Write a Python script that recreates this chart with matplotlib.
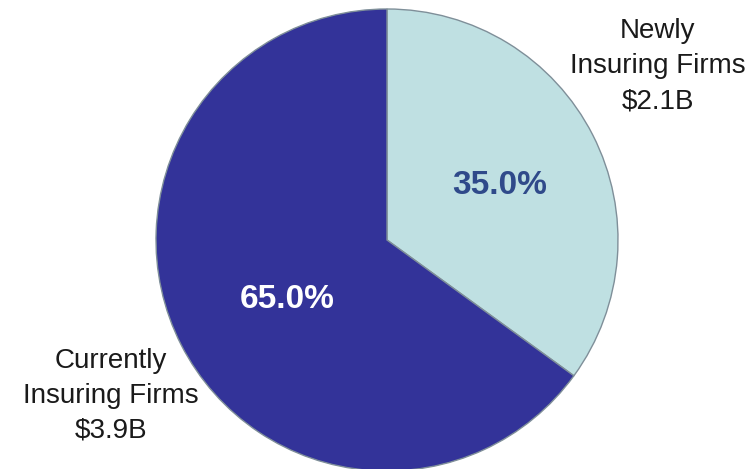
import matplotlib.pyplot as plt

# Share of premium by firm group
groups = ['Newly\nInsuring Firms\n$2.1B', 'Currently\nInsuring Firms\n$3.9B']
shares = [35.0, 65.0]
colors = ['#bfe0e2', '#333399']
pct_colors = ['#2f4a8a', 'white']

plt.rcParams['font.family'] = ['Liberation Sans', 'DejaVu Sans']

fig = plt.figure(figsize=(7.56, 4.69), dpi=100)
ax = fig.add_axes([0, 0, 1, 1])
ax.set_xlim(0, 756)
ax.set_ylim(0, 469)
ax.set_aspect('equal')
ax.axis('off')

wedges, texts, autotexts = ax.pie(
    shares, colors=colors, startangle=90, counterclock=False,
    center=(387, 229), radius=231, autopct='%1.1f%%', pctdistance=0.55,
    wedgeprops=dict(edgecolor='#7f8f99', linewidth=1.0),
    textprops=dict(fontsize=24, fontweight='bold'))
ax.set_xlim(0, 756)
ax.set_ylim(0, 469)

for t, c in zip(autotexts, pct_colors):
    t.set_color(c)

# outside labels placed by hand
autotexts[0].set_position((500, 284))
autotexts[1].set_position((287, 170))
ax.text(658, 403, groups[0], ha='center', va='center', fontsize=20,
        linespacing=1.45, color='#1a1a1a')
ax.text(111, 73, groups[1], ha='center', va='center', fontsize=20,
        linespacing=1.45, color='#1a1a1a')

fig.savefig('out.png', dpi=100)
